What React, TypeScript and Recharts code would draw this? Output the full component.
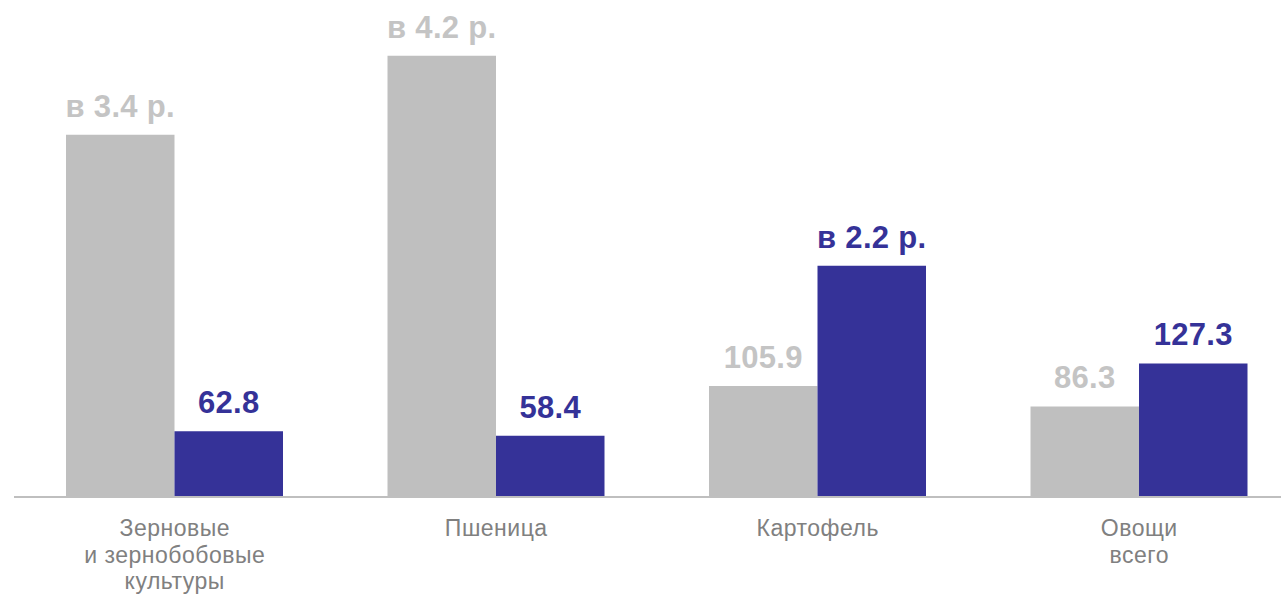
import { BarChart, Bar, XAxis, YAxis, LabelList } from "recharts";

const categories = ["Зерновые\nи зернобобовые\nкультуры", "Пшеница", "Картофель", "Овощи\nвсего"];
const grayValues = [345.4, 420.8, 105.9, 86.3];
const blueValues = [62.8, 58.4, 220.4, 127.3];
const grayLabels = ["в 3.4 р.", "в 4.2 р.", "105.9", "86.3"];
const blueLabels = ["62.8", "58.4", "в 2.2 р.", "127.3"];

const GRAY = "#BFBFBF";
const BLUE = "#353298";
const FONT = "'Liberation Sans', Arial, sans-serif";

const chartData = categories.map((name, i) => ({
  name,
  gray: grayValues[i],
  blue: blueValues[i],
  grayLabel: grayLabels[i],
  blueLabel: blueLabels[i],
}));

function CategoryTick(props: any) {
  const { x, y, payload } = props;
  const lines = String(payload.value).split("\n");
  return (
    <text
      x={x}
      y={y + 31}
      textAnchor="middle"
      fill="#808080"
      fontSize={23}
      letterSpacing={0.5}
      fontFamily={FONT}
    >
      {lines.map((line, i) => (
        <tspan key={i} x={x} dy={i === 0 ? 0 : 26.5}>
          {line}
        </tspan>
      ))}
    </text>
  );
}

export default function App() {
  return (
    <div style={{ position: "absolute", left: 0, top: 0, width: 1281, height: 595, overflow: "hidden", background: "#fff" }}>
      <BarChart
        width={1300}
        height={595}
        data={chartData}
        margin={{ top: 25, right: 0, left: 14, bottom: 0 }}
        barGap={0}
        barSize={108.5}
      >
        <XAxis
          dataKey="name"
          height={98}
          axisLine={{ stroke: GRAY, strokeWidth: 2 }}
          tickLine={false}
          interval={0}
          tick={<CategoryTick />}
        />
        <YAxis hide domain={[0, 450]} />
        <Bar dataKey="gray" fill={GRAY} isAnimationActive={false}>
          <LabelList
            dataKey="grayLabel"
            position="top"
            offset={18}
            fill="#C4C4C4"
            fontSize={31}
            letterSpacing={0.3}
            fontWeight="bold"
            fontFamily={FONT}
          />
        </Bar>
        <Bar dataKey="blue" fill={BLUE} isAnimationActive={false}>
          <LabelList
            dataKey="blueLabel"
            position="top"
            offset={18}
            fill={BLUE}
            fontSize={31}
            letterSpacing={0.3}
            fontWeight="bold"
            fontFamily={FONT}
          />
        </Bar>
      </BarChart>
    </div>
  );
}
